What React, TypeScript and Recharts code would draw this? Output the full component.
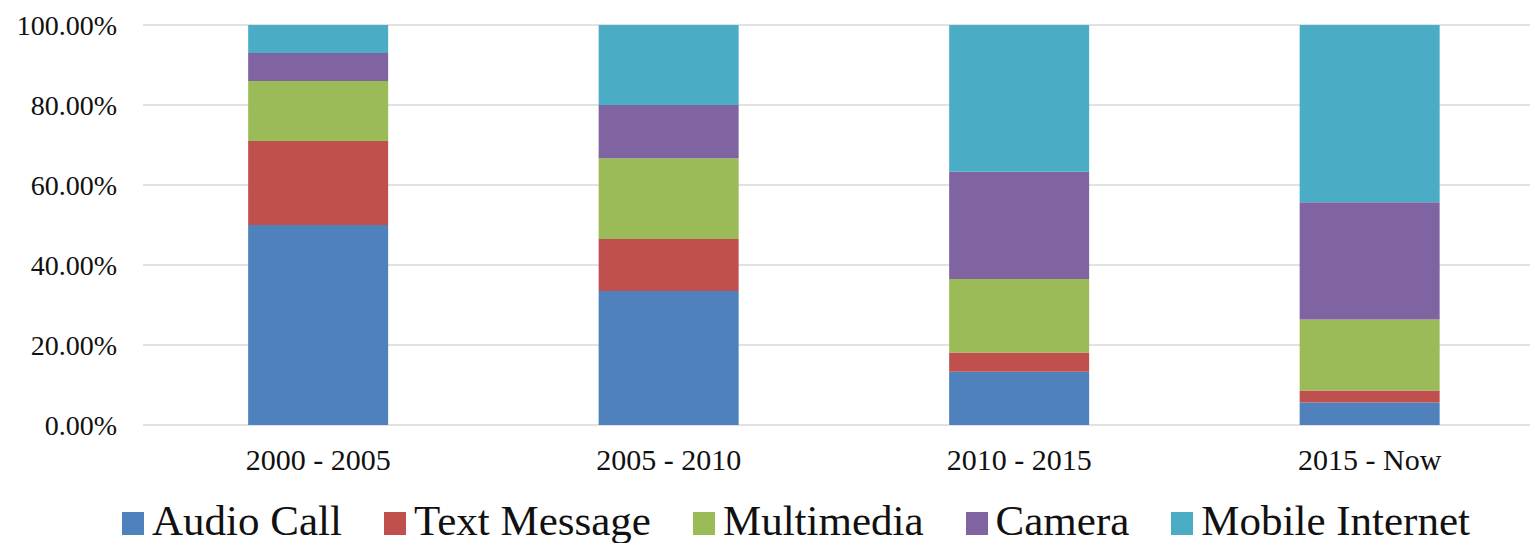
import React from 'react';
import { BarChart, Bar, XAxis, YAxis, CartesianGrid, Legend } from 'recharts';

const categories = ['2000 - 2005', '2005 - 2010', '2010 - 2015', '2015 - Now'];
const audioCall = [50, 33.5, 13.3, 5.6];
const textMessage = [21, 13, 4.8, 3];
const multimedia = [15, 20.2, 18.4, 17.8];
const camera = [7, 13.3, 26.8, 29.3];
const mobileInternet = [7, 20, 36.7, 44.3];
const yTicks = [0, 20, 40, 60, 80, 100];

const seriesNames = ['Audio Call', 'Text Message', 'Multimedia', 'Camera', 'Mobile Internet'];
const seriesColors = ['#4f81bd', '#c0504d', '#9bbb59', '#8064a2', '#4bacc6'];
const seriesValues = [audioCall, textMessage, multimedia, camera, mobileInternet];

const data = categories.map((c, i) => {
  const row: Record<string, string | number> = { category: c };
  seriesNames.forEach((n, k) => {
    row[n] = seriesValues[k][i];
  });
  return row;
});

const FONT = "'Liberation Serif', 'Times New Roman', serif";

const renderLegend = () => (
  <div
    style={{
      display: 'flex',
      alignItems: 'baseline',
      paddingLeft: 122,
      height: 43,
      fontFamily: FONT,
      fontSize: 43,
      lineHeight: '42px',
      color: '#111',
      whiteSpace: 'nowrap',
    }}
  >
    {seriesNames.map((n, k) => (
      <span key={n} style={{ marginRight: k < seriesNames.length - 1 ? 42 : 0 }}>
        <span
          style={{
            display: 'inline-block',
            width: 22,
            height: 23,
            background: seriesColors[k],
            marginRight: 8,
            verticalAlign: 'baseline',
          }}
        />
        {n}
      </span>
    ))}
  </div>
);

export default function App() {
  return (
    <div style={{ position: 'fixed', left: 0, top: 0, width: 1530, height: 543, overflow: 'hidden', background: '#fff' }}>
      <BarChart
        width={1560}
        height={543}
        data={data}
        margin={{ top: 25, right: 15, bottom: 25, left: 0 }}
        barCategoryGap="30%"
      >
        <CartesianGrid horizontal vertical={false} stroke="#d9d9d9" strokeWidth={1.5} />
        <XAxis
          dataKey="category"
          axisLine={false}
          tickLine={false}
          tickSize={0}
          tickMargin={24}
          height={50}
          interval={0}
          tick={{ fontFamily: FONT, fontSize: 30, fill: '#111' }}
        />
        <YAxis
          domain={[0, 100]}
          ticks={yTicks}
          width={143}
          axisLine={false}
          tickLine={false}
          tickSize={0}
          tickMargin={26}
          tickFormatter={(v: number) => v.toFixed(2) + '%'}
          tick={{ fontFamily: FONT, fontSize: 28, fill: '#111' }}
        />
        <Legend
          verticalAlign="bottom"
          content={renderLegend}
          wrapperStyle={{ left: 0, width: 1530, top: 500, bottom: 'auto', height: 43 }}
        />
        {seriesNames.map((n, k) => (
          <Bar key={n} dataKey={n} stackId="a" fill={seriesColors[k]} isAnimationActive={false} />
        ))}
      </BarChart>
    </div>
  );
}
